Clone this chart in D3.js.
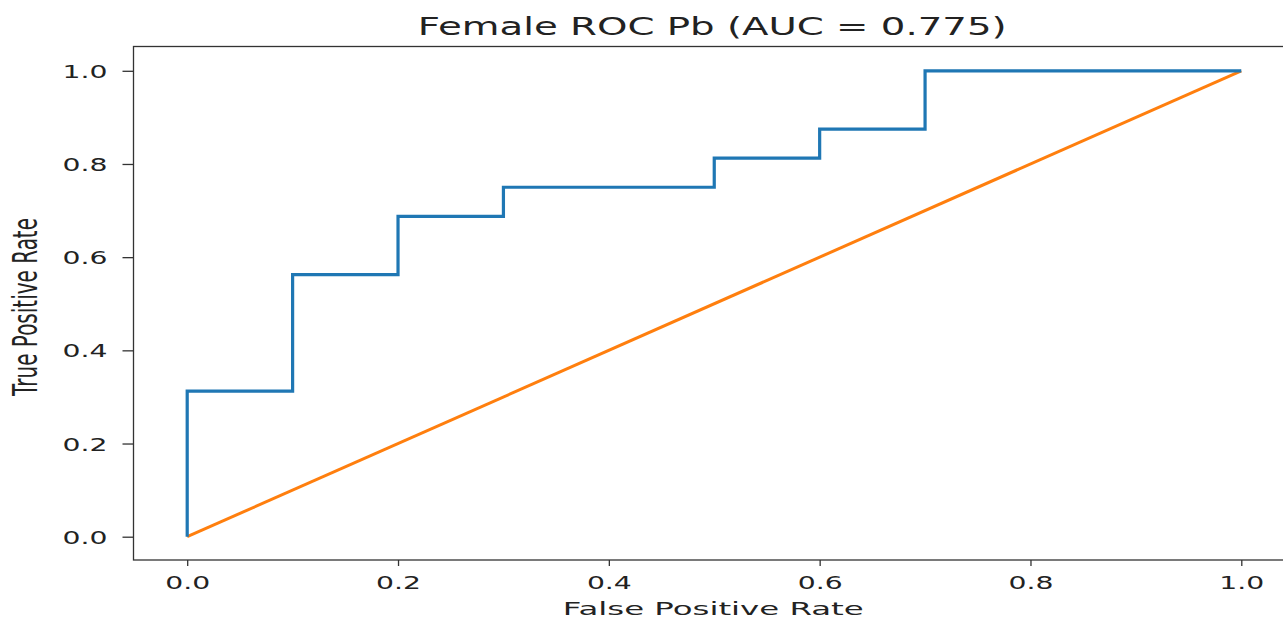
<!DOCTYPE html>
<html>
<head>
<meta charset="utf-8">
<script src="https://cdn.jsdelivr.net/npm/d3@7"></script>
<style>
  body { margin: 0; background: #fff; }
  svg { display: block; }
  text { font-family: "DejaVu Sans", sans-serif; fill: #222; }
</style>
</head>
<body>
<div class="container"></div>
<script>
// roc curve points
const fpr = [0, 0, 0.1, 0.1, 0.2, 0.2, 0.3, 0.3, 0.5, 0.5, 0.6, 0.6, 0.7, 0.7, 1.0];
const tpr = [0, 0.3125, 0.3125, 0.5625, 0.5625, 0.6875, 0.6875, 0.75, 0.75, 0.8125, 0.8125, 0.875, 0.875, 1.0, 1.0];
// chance line
const chanceX = [0, 1];
const chanceY = [0, 1];
const ticks = [0, 0.2, 0.4, 0.6, 0.8, 1.0];
const auc = 0.775;

const width = 1283;
const height = 620;
const sx = 1.57; // picture is stretched sideways

const svg = d3
  .select('.container')
  .append('svg')
  .attr('width', width)
  .attr('height', height);

const x = d3.scaleLinear().domain([-0.05, 1.05]).range([134.5, 1294]);
const y = d3.scaleLinear().domain([-0.05, 1.05]).range([560, 47.5]);

const line = d3
  .line()
  .x((d) => x(d[0]))
  .y((d) => y(d[1]));

svg
  .append('path')
  .datum(d3.zip(chanceX, chanceY))
  .attr('fill', 'none')
  .attr('stroke', '#ff7f0e')
  .attr('stroke-width', 3)
  .attr('d', line);

svg
  .append('path')
  .datum(d3.zip(fpr, tpr))
  .attr('fill', 'none')
  .attr('stroke', '#1f77b4')
  .attr('stroke-width', 3.2)
  .attr('d', line);

// axes
const xAxis = svg
  .append('g')
  .attr('transform', `translate(0,${y.range()[0]})`)
  .call(d3.axisBottom(x).tickValues(ticks).tickFormat(d3.format('.1f')).tickSize(6).tickSizeOuter(0));
xAxis.select('.domain').remove();
xAxis.selectAll('.tick line').attr('stroke', '#333').attr('stroke-width', 1.3);
xAxis
  .selectAll('.tick text')
  .attr('font-size', 18)
  .attr('y', 29)
  .attr('dy', 0)
  .attr('transform', `scale(${sx},1)`);

const yAxis = svg
  .append('g')
  .attr('transform', `translate(${x.range()[0] - 1},0)`)
  .call(d3.axisLeft(y).tickValues(ticks).tickFormat(d3.format('.1f')).tickSize(11).tickSizeOuter(0));
yAxis.select('.domain').remove();
yAxis.selectAll('.tick line').attr('stroke', '#333').attr('stroke-width', 1.3);
yAxis
  .selectAll('.tick text')
  .attr('font-size', 18)
  .attr('x', -26 / sx)
  .attr('dy', '0.36em')
  .attr('transform', `scale(${sx},1)`);

// spines (right one falls outside the crop)
svg
  .append('rect')
  .attr('x', x.range()[0] - 1)
  .attr('y', y.range()[1] - 1)
  .attr('width', x.range()[1] - x.range()[0] + 1)
  .attr('height', y.range()[0] - y.range()[1] + 1)
  .attr('fill', 'none')
  .attr('stroke', '#333')
  .attr('stroke-width', 1.3);

const midX = (x.range()[0] + x.range()[1]) / 2;

svg
  .append('text')
  .attr('transform', `translate(${midX - 2},35) scale(1.58,1)`)
  .attr('text-anchor', 'middle')
  .attr('font-size', 24.5)
  .text(`Female ROC Pb (AUC = ${auc})`);

svg
  .append('text')
  .attr('transform', `translate(${midX - 1},615) scale(1.8,1)`)
  .attr('text-anchor', 'middle')
  .attr('font-size', 18)
  .text('False Positive Rate');

svg
  .append('text')
  .attr('transform', `translate(37,307) rotate(-90) scale(1,1.68)`)
  .attr('text-anchor', 'middle')
  .attr('font-size', 20)
  .text('True Positive Rate');
</script>
</body>
</html>
